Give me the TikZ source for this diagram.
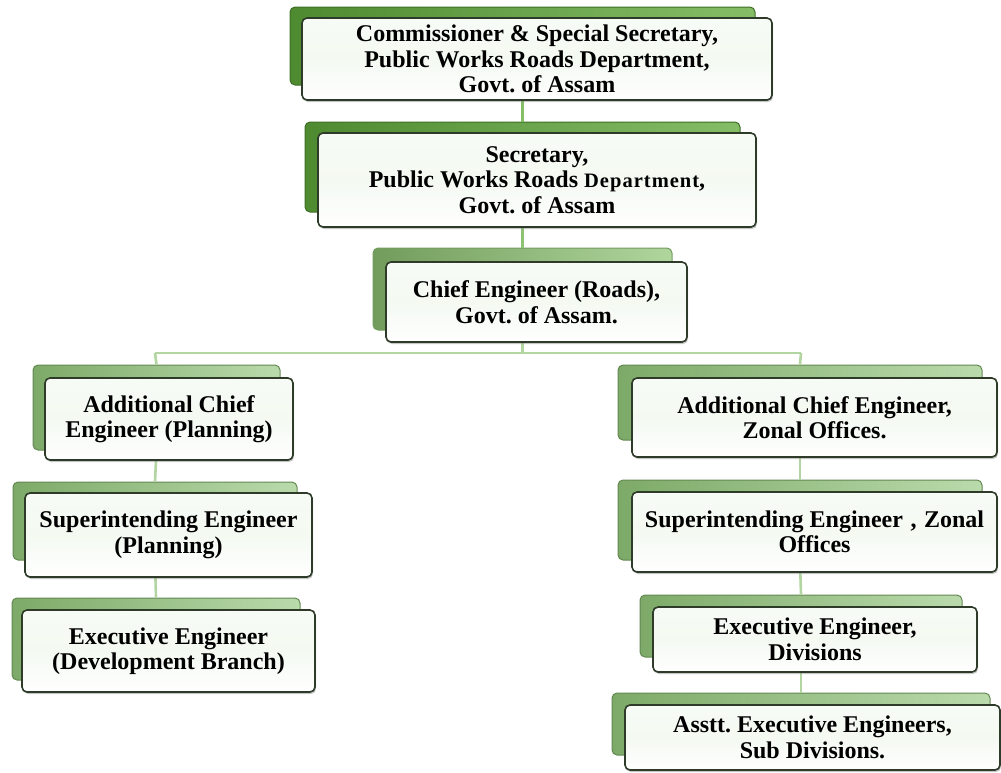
\documentclass[tikz,border=0pt]{standalone}
\usepackage{fontspec}
\setmainfont{Liberation Serif}
\usetikzlibrary{shadows}
\frenchspacing
\definecolor{leafdark}{HTML}{4E8A30}
\definecolor{leafmid}{HTML}{78B656}
\definecolor{leafsoft}{HTML}{A3CE90}
\definecolor{leafsoftedge}{HTML}{7DAA68}
\definecolor{leafmidsoft}{HTML}{8EC373}
\definecolor{framedark}{HTML}{2E3B29}
\definecolor{linkstrong}{HTML}{84BF66}
\definecolor{linksoft}{HTML}{B2D5A2}
\tikzset{
  back/.style={draw=#1!80!black, line width=1pt, rounded corners=5pt, inner sep=0pt},
  backdark/.style={back=leafdark, left color=leafdark, right color=leafmid!90!white},
  backmid/.style={back=leafmidsoft, left color=leafmidsoft!80!black, right color=leafmidsoft!70!white},
  backsoft/.style={back=leafsoftedge, left color=leafsoftedge, right color=leafsoft!75!white},
  front/.style={draw=framedark, line width=1.6pt, rounded corners=5pt,
    top color=white!92!leafsoft, bottom color=white, middle color=white!88!leafsoft,
    drop shadow={shadow xshift=1pt, shadow yshift=-2pt, opacity=0.45},
    align=center, inner sep=2pt,
    font=\fontsize{24}{25.5}\selectfont\bfseries},
  link/.style={line width=2.6pt, draw=#1},
}
\begin{document}
\begin{tikzpicture}[x=1pt,y=-1pt]
\useasboundingbox (0,0) rectangle (1001,772);

% back tiles (green)
\node[backdark, minimum width=465pt, minimum height=78pt] (b1back) at (522.5,46) {};
\node[backdark, minimum width=435pt, minimum height=90pt] (b2back) at (522.5,167) {};
\node[backmid, minimum width=299pt, minimum height=82pt] (b3back) at (522.5,289) {};
\node[backsoft, minimum width=247pt, minimum height=85pt] (l1back) at (156.5,407.5) {};
\node[backsoft, minimum width=284pt, minimum height=78pt] (l2back) at (155,521) {};
\node[backsoft, minimum width=288pt, minimum height=82pt] (l3back) at (156,639) {};
\node[backsoft, minimum width=364pt, minimum height=75pt] (r1back) at (800,402.5) {};
\node[backsoft, minimum width=364pt, minimum height=80pt] (r2back) at (800,520) {};
\node[backsoft, minimum width=322pt, minimum height=62pt] (r3back) at (801,626) {};
\node[backsoft, minimum width=378pt, minimum height=62pt] (r4back) at (801,724) {};

% connectors, drawn beneath the front tiles
\coordinate (bus) at (522.5,353);
\coordinate (busL) at (155,353);
\coordinate (busR) at (801,353);
\draw[link=linkstrong] (b1back.south) -- (b2back.north);
\draw[link=linkstrong!80!linksoft] (b2back.south) -- (b3back.north);
\draw[link=linksoft] (b3back.south) -- (bus);
\draw[link=linksoft] (busL) -- (busR);
\draw[link=linksoft] (busL) -- (l1back.north);
\draw[link=linksoft] (busR) -- (r1back.north);
\draw[link=linksoft] (l1back.south) -- (l2back.north);
\draw[link=linksoft] (l2back.south) -- (l3back.north);
\draw[link=linksoft] (r1back.south) -- (r2back.north);
\draw[link=linksoft] (r2back.south) -- (r3back.north);
\draw[link=linksoft] (r3back.south) -- (r4back.north);

% front tiles with the titles
\node[front, minimum width=470pt, minimum height=82pt] (b1) at (537,59)
  {Commissioner \& Special Secretary,\\Public Works Roads Department,\\Govt. of Assam};
\node[front, minimum width=438pt, minimum height=94pt] (b2) at (537,180)
  {Secretary,\\Public Works Roads {\fontsize{20.5}{22}\selectfont\addfontfeatures{LetterSpace=5}Department},\\Govt. of Assam};
\node[front, minimum width=301pt, minimum height=80pt] (b3) at (536.5,302)
  {Chief Engineer (Roads),\\Govt. of Assam.};
\node[front, minimum width=248pt, minimum height=82pt] (l1) at (169,419)
  {Additional Chief\\Engineer (Planning)};
\node[front, minimum width=287pt, minimum height=84pt] (l2) at (168.5,535)
  {Superintending Engineer\\(Planning)};
\node[front, minimum width=293pt, minimum height=82pt] (l3) at (168.5,651)
  {Executive Engineer\\(Development Branch)};
\node[front, minimum width=365pt, minimum height=79pt] (r1) at (814.5,417.5)
  {Additional Chief Engineer,\\Zonal Offices.};
\node[front, minimum width=365pt, minimum height=80pt] (r2) at (814.5,532)
  {Superintending Engineer\hspace{1.5pt} ,\hspace{1.5pt} Zonal\\Offices};
\node[front, minimum width=324pt, minimum height=65pt] (r3) at (815,639.5)
  {Executive Engineer,\\Divisions};
\node[front, minimum width=375pt, minimum height=65pt] (r4) at (812.5,737.5)
  {Asstt. Executive Engineers,\\Sub Divisions.};
\end{tikzpicture}
\end{document}
